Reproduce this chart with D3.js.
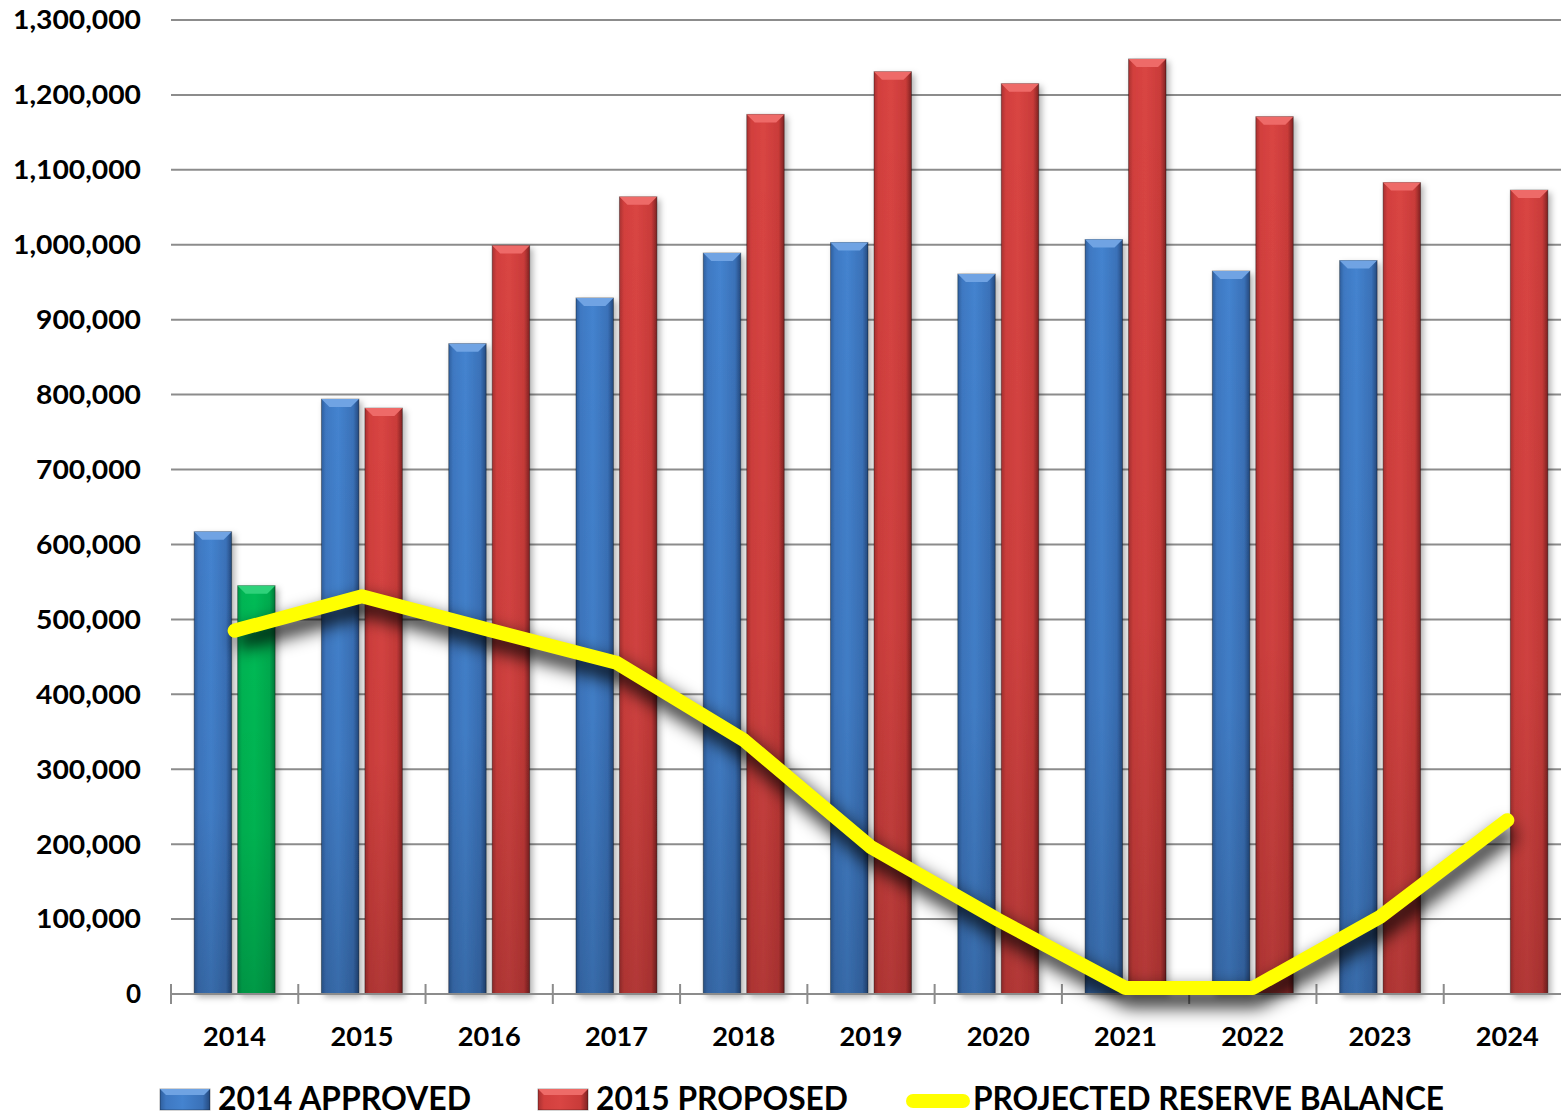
<!DOCTYPE html>
<html><head><meta charset="utf-8">
<script src="https://cdn.jsdelivr.net/npm/d3@7"></script>
<style>html,body{margin:0;padding:0;background:#fff;overflow:hidden}</style>
</head><body>
<svg id="c" width="1561" height="1117"></svg>
<script>
const years = ["2014","2015","2016","2017","2018","2019","2020","2021","2022","2023","2024"];
const approved2014 = [617000, 794000, 868000, 929000, 989000, 1003000, 961000, 1007000, 965000, 979000, null];
const proposed2015 = [545000, 782000, 999000, 1064000, 1174000, 1231000, 1215000, 1248000, 1171000, 1083000, 1073000];
const reserveBalance = [485000, 531000, 486000, 442000, 339000, 196000, 99000, 8000, 8000, 103000, 232000];
const yTicks = [0,100000,200000,300000,400000,500000,600000,700000,800000,900000,1000000,1100000,1200000,1300000];
const legendLabels = ["2014 APPROVED","2015 PROPOSED","PROJECTED RESERVE BALANCE"];

const svg = d3.select("#c");
const FONT = "Lato, 'Open Sans', sans-serif";
const x0 = d3.scaleBand().domain(years).range([171, 1571]).paddingInner(0.364).paddingOuter(0.182);
const x1 = d3.scaleBand().domain(["a","b"]).range([0, x0.bandwidth()]).paddingInner(0.138);
const y = d3.scaleLinear().domain([0, 1300000]).range([994, 20]);

const defs = svg.append("defs");
function grad(id, stops){
  const g = defs.append("linearGradient").attr("id", id).attr("x1","0").attr("x2","1").attr("y1","0").attr("y2","0");
  stops.forEach(s => g.append("stop").attr("offset", s[0]).attr("stop-color", s[1]));
}
grad("gBlue", [[0,"#2f5f9e"],[0.12,"#3e78c2"],[0.45,"#4483cf"],[0.85,"#3a71b8"],[1,"#24497e"]]);
grad("gRed",  [[0,"#a83131"],[0.12,"#d23f3d"],[0.45,"#d94543"],[0.85,"#c93b39"],[1,"#7f2323"]]);
grad("gGreen",[[0,"#00964a"],[0.12,"#00b553"],[0.45,"#00bb55"],[0.85,"#00aa4e"],[1,"#007a3a"]]);
const vg = defs.append("linearGradient").attr("id","gShade").attr("x1","0").attr("x2","0").attr("y1","0").attr("y2","1");
vg.append("stop").attr("offset",0).attr("stop-color","#000").attr("stop-opacity",0);
vg.append("stop").attr("offset",0.6).attr("stop-color","#000").attr("stop-opacity",0.05);
vg.append("stop").attr("offset",1).attr("stop-color","#000").attr("stop-opacity",0.18);

const fb = defs.append("filter").attr("id","barShadow").attr("x","-30%").attr("y","-5%").attr("width","170%").attr("height","115%");
fb.append("feDropShadow").attr("dx",3).attr("dy",3).attr("stdDeviation",3).attr("flood-color","#000").attr("flood-opacity",0.3);
const fl = defs.append("filter").attr("id","blurShadow").attr("x","-10%").attr("y","-30%").attr("width","120%").attr("height","160%");
fl.append("feGaussianBlur").attr("stdDeviation",9);

// gridlines
svg.append("g").selectAll("line").data(yTicks.slice(1)).join("line")
  .attr("x1",171).attr("x2",1571).attr("y1",d=>y(d)).attr("y2",d=>y(d))
  .attr("stroke","#8c8c8c").attr("stroke-width",2);

// y labels
svg.append("g").selectAll("text").data(yTicks).join("text")
  .attr("x",141).attr("y",d=>y(d)).attr("dy","0.36em").attr("text-anchor","end")
  .attr("font-family",FONT).attr("font-weight","bold").attr("font-size",26).attr("fill","#000")
  .attr("textLength", d => d === 0 ? null : (d >= 1000000 ? 128 : 105)).attr("lengthAdjust","spacingAndGlyphs")
  .text(d=>d3.format(",")(d));

// bars
const bevel = 8;
function drawBar(g, x, w, v, fill, light){
  const top = y(v), bot = y(0);
  const grp = g.append("g").attr("filter","url(#barShadow)");
  grp.append("rect").attr("x",x).attr("y",top).attr("width",w).attr("height",bot-top)
    .attr("fill",fill).attr("stroke","rgba(0,0,0,0.35)").attr("stroke-width",1);
  grp.append("rect").attr("x",x).attr("y",top).attr("width",w).attr("height",bot-top).attr("fill","url(#gShade)");
  grp.append("path").attr("d",`M${x},${top}L${x+w},${top}L${x+w-bevel},${top+bevel}L${x+bevel},${top+bevel}Z`)
    .attr("fill",light);
}
const bars = svg.append("g");
years.forEach((yr,i)=>{
  const bx = x0(yr);
  if (approved2014[i] != null) drawBar(bars, bx + x1("a"), x1.bandwidth(), approved2014[i], "url(#gBlue)", "#6fa3e3");
  if (proposed2015[i] != null) {
    if (i === 0) drawBar(bars, bx + x1("b"), x1.bandwidth(), proposed2015[i], "url(#gGreen)", "#2fd27a");
    else drawBar(bars, bx + x1("b"), x1.bandwidth(), proposed2015[i], "url(#gRed)", "#ee6b68");
  }
});

// x axis
const ax = svg.append("g");
ax.append("line").attr("x1",171).attr("x2",1571).attr("y1",994).attr("y2",994).attr("stroke","#8c8c8c").attr("stroke-width",2);
const bnd = years.map((yr,i)=> 171 + i*x0.step());
ax.selectAll("line.t").data(bnd).join("line").attr("class","t")
  .attr("x1",d=>d).attr("x2",d=>d).attr("y1",984).attr("y2",1004).attr("stroke","#8c8c8c").attr("stroke-width",2);
ax.selectAll("text").data(years).join("text")
  .attr("x",d=>x0(d)+x0.bandwidth()/2).attr("y",1046).attr("text-anchor","middle")
  .attr("font-family",FONT).attr("font-weight","bold").attr("font-size",27).attr("fill","#000")
  .attr("textLength",63).attr("lengthAdjust","spacingAndGlyphs").text(d=>d);

// line with shadow
const line = d3.line().x((d,i)=>x0(years[i])+x0.bandwidth()/2).y(d=>y(d));
svg.append("clipPath").attr("id","plotClip").append("rect").attr("x",0).attr("y",0).attr("width",1600).attr("height",997);
svg.append("path").datum(reserveBalance).attr("d",line).attr("fill","none")
  .attr("stroke","#000").attr("stroke-opacity",0.85).attr("stroke-width",18).attr("stroke-linejoin","round")
  .attr("transform","translate(4,10)").attr("filter","url(#blurShadow)");
svg.append("path").datum(reserveBalance).attr("d",line).attr("fill","none")
  .attr("stroke","#ffff00").attr("stroke-width",14).attr("stroke-linecap","round").attr("stroke-linejoin","round")
  .attr("clip-path","url(#plotClip)");

// legend
const lg = svg.append("g");
function swatch(x, fill, light){
  lg.append("rect").attr("x",x).attr("y",1089).attr("width",50).attr("height",21).attr("fill",fill).attr("stroke","rgba(0,0,0,0.35)");
  lg.append("path").attr("d",`M${x},1089L${x+50},1089L${x+44},1095L${x+6},1095Z`).attr("fill",light);
}
swatch(160,"url(#gBlue)","#6fa3e3");
swatch(538,"url(#gRed)","#ee6b68");
lg.append("line").attr("x1",913).attr("x2",963).attr("y1",1101).attr("y2",1101).attr("stroke","#ffff00").attr("stroke-width",14).attr("stroke-linecap","round");
const lx = [218, 596, 973], lw = [253, 252, 471];
legendLabels.forEach((t,i)=>{
  lg.append("text").attr("x",lx[i]).attr("y",1110).attr("font-family",FONT).attr("font-weight","bold")
    .attr("font-size",32).attr("fill","#000").attr("textLength",lw[i]).attr("lengthAdjust","spacingAndGlyphs").text(t);
});
</script>
</body></html>
